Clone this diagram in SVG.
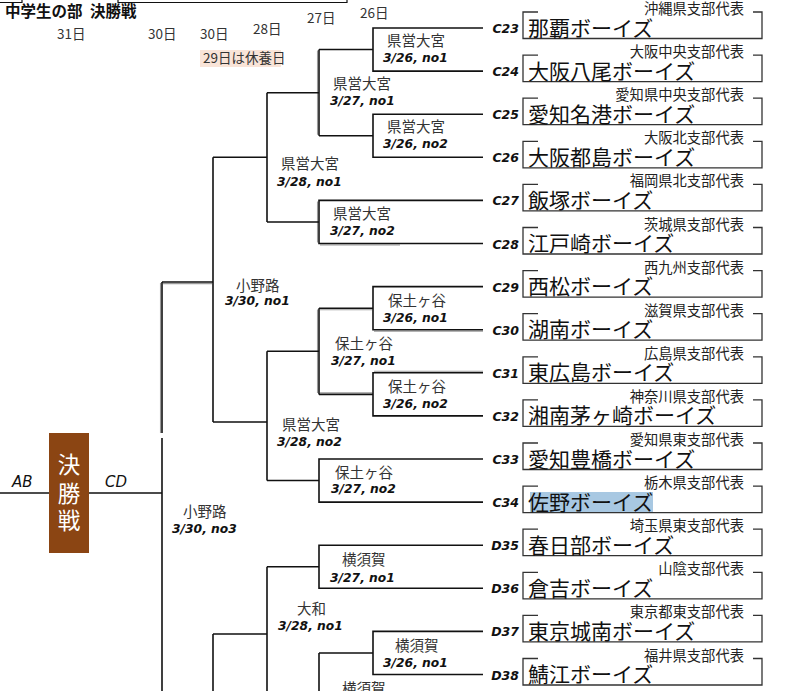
<svg xmlns="http://www.w3.org/2000/svg" width="800" height="691" viewBox="0 0 800 691">
<style>
.ln{fill:none;stroke:#111;stroke-width:1.6}
.gl{fill:none;stroke:#9a9a9a;stroke-width:1.1}
.box{fill:none;stroke:#333;stroke-width:1.3}
.sub{font-family:"Noto Sans CJK JP",sans-serif;font-size:14.3px;fill:#222;text-anchor:end}
.team{font-family:"Noto Sans CJK JP",sans-serif;font-size:21px;fill:#111}
.code{font-family:"DejaVu Sans",Verdana,sans-serif;font-weight:bold;font-style:italic;font-size:12.5px;fill:#111;text-anchor:end}
.place{font-family:"Noto Sans CJK JP",sans-serif;font-size:14.5px;fill:#333}
.date{font-family:"DejaVu Sans",Verdana,sans-serif;font-weight:bold;font-style:italic;font-size:12.3px;fill:#111}
.hdr{font-family:"Noto Sans CJK JP",sans-serif;font-size:13.5px;fill:#333}
.ab{font-family:"DejaVu Sans",Verdana,sans-serif;font-style:italic;font-size:15px;fill:#111}
</style>

<g id="header">
  <path class="ln" d="M0,2.5 H22 V0 M118,0 V2.5 H347 V0" style="stroke-width:1.2"/>
  <text x="5" y="16.5" style="font-family:'Noto Sans CJK JP',sans-serif;font-size:15.5px;font-weight:bold;fill:#111">中学生の部<tspan x="90">決勝戦</tspan></text>
  <text class="hdr" x="57" y="39">31日</text>
  <text class="hdr" x="148" y="39">30日</text>
  <text class="hdr" x="200" y="39">30日</text>
  <text class="hdr" x="253" y="34">28日</text>
  <text class="hdr" x="307" y="23">27日</text>
  <text class="hdr" x="360" y="18">26日</text>
  <rect x="200" y="50" width="81" height="17" fill="#f9e4d8"/>
  <text class="hdr" x="203" y="63">29日は休養日</text>
</g>

<g id="connectors">
  <!-- shading lines that double some winner paths -->
  <path class="gl" d="M317.5,50.5 V134.8 M317.5,201.5 V242.5 M160.5,283 V433 M163,283.6 H212 M317.5,309.5 V393 M320,309.8 H372 M320,392.8 H372 M374,331.3 H483 M374,371.2 H483 M320,245 H400"/>
  <!-- round 1 (x=373) -->
  <path class="ln" d="M483,28 H373 V71.1 H483 M373,49.5 H319"/>
  <path class="ln" d="M483,114.2 H373 V157.3 H483 M373,135.8 H319"/>
  <path class="ln" d="M483,286.6 H373 V329.7 H483 M373,308.2 H319"/>
  <path class="ln" d="M483,372.8 H373 V415.9 H483 M373,394.4 H319"/>
  <path class="ln" d="M483,631.4 H373 V674.5 H483 M373,653 H319"/>
  <!-- round 2 (x=319) -->
  <path class="ln" d="M319,49.5 V135.8 M319,92.7 H267"/>
  <path class="ln" d="M483,200.4 H319 V243.5 H483 M319,222 H267"/>
  <path class="ln" d="M319,308.2 V394.4 M319,351.3 H267"/>
  <path class="ln" d="M483,459 H319 V502.1 H483 M319,480.5 H267"/>
  <path class="ln" d="M483,545.2 H319 V588.3 H483 M319,566.8 H267"/>
  <path class="ln" d="M319,653 V691"/>
  <!-- round 3 (x=267) -->
  <path class="ln" d="M267,92.7 V222 M267,157.3 H213"/>
  <path class="ln" d="M267,351.3 V480.5 M267,422 H213"/>
  <path class="ln" d="M267,566.8 V691 M267,634 H213"/>
  <!-- round 4 (x=213) -->
  <path class="ln" d="M213,157.3 V422 M213,282 H162"/>
  <path class="ln" d="M213,634 V691"/>
  <!-- round 5 (x=162) -->
  <path class="ln" d="M162,282 V433"/>
  <path class="ln" d="M162,438 V691 M162,493 H89"/>
  <path class="ln" d="M49,493 H0"/>
</g>

<g id="final">
  <rect x="49" y="433" width="40" height="120" fill="#8b4513"/>
  <text x="69" style="font-family:'Noto Sans CJK JP',sans-serif;font-size:22.5px;fill:#fff;text-anchor:middle"><tspan x="69" y="473">決</tspan><tspan x="69" y="502">勝</tspan><tspan x="69" y="529">戦</tspan></text>
  <text class="ab" x="12" y="487">AB</text>
  <text class="ab" x="105" y="487">CD</text>
</g>

<g id="m-c1"><text class="place" x="387" y="46">県営大宮</text><text class="date" x="383" y="62">3/26, no1</text></g>
<g id="m-c2"><text class="place" x="333" y="89">県営大宮</text><text class="date" x="330" y="105">3/27, no1</text></g>
<g id="m-c3"><text class="place" x="387" y="132">県営大宮</text><text class="date" x="383" y="148">3/26, no2</text></g>
<g id="m-c4"><text class="place" x="333" y="219">県営大宮</text><text class="date" x="330" y="235">3/27, no2</text></g>
<g id="m-c5"><text class="place" x="281" y="169">県営大宮</text><text class="date" x="277" y="186">3/28, no1</text></g>
<g id="m-c6"><text class="place" x="236" y="291">小野路</text><text class="date" x="225" y="305">3/30, no1</text></g>
<g id="m-c7"><text class="place" x="388" y="306">保土ヶ谷</text><text class="date" x="383" y="322">3/26, no1</text></g>
<g id="m-c8"><text class="place" x="335" y="349">保土ヶ谷</text><text class="date" x="331" y="365">3/27, no1</text></g>
<g id="m-c9"><text class="place" x="388" y="392">保土ヶ谷</text><text class="date" x="383" y="408">3/26, no2</text></g>
<g id="m-c10"><text class="place" x="282" y="430">県営大宮</text><text class="date" x="277" y="446">3/28, no2</text></g>
<g id="m-c11"><text class="place" x="335" y="478">保土ヶ谷</text><text class="date" x="331" y="493">3/27, no2</text></g>
<g id="m-f3"><text class="place" x="183" y="517">小野路</text><text class="date" x="172" y="533">3/30, no3</text></g>
<g id="m-d1"><text class="place" x="342" y="565">横須賀</text><text class="date" x="330" y="582">3/27, no1</text></g>
<g id="m-d2"><text class="place" x="297" y="614">大和</text><text class="date" x="278" y="630">3/28, no1</text></g>
<g id="m-d3"><text class="place" x="395" y="651">横須賀</text><text class="date" x="383" y="667">3/26, no1</text></g>
<g id="m-d4"><text class="place" x="342" y="694">横須賀</text></g>

<g id="t-C23"><path class="box" d="M538,12 H523 V38.5 H762 V12 H753"/><text class="sub" x="744" y="14">沖縄県支部代表</text><text class="team" x="528" y="35.5">那覇ボーイズ</text><text class="code" x="519" y="33">C23</text></g>
<g id="t-C24"><path class="box" d="M538,55.1 H523 V81.6 H762 V55.1 H753"/><text class="sub" x="744" y="57.1">大阪中央支部代表</text><text class="team" x="528" y="78.6">大阪八尾ボーイズ</text><text class="code" x="519" y="76.1">C24</text></g>
<g id="t-C25"><path class="box" d="M538,98.2 H523 V124.7 H762 V98.2 H753"/><text class="sub" x="744" y="100.2">愛知県中央支部代表</text><text class="team" x="528" y="121.7">愛知名港ボーイズ</text><text class="code" x="519" y="119.2">C25</text></g>
<g id="t-C26"><path class="box" d="M538,141.3 H523 V167.8 H762 V141.3 H753"/><text class="sub" x="744" y="143.3">大阪北支部代表</text><text class="team" x="528" y="164.8">大阪都島ボーイズ</text><text class="code" x="519" y="162.3">C26</text></g>
<g id="t-C27"><path class="box" d="M538,184.4 H523 V210.9 H762 V184.4 H753"/><text class="sub" x="744" y="186.4">福岡県北支部代表</text><text class="team" x="528" y="207.9">飯塚ボーイズ</text><text class="code" x="519" y="205.4">C27</text></g>
<g id="t-C28"><path class="box" d="M538,227.5 H523 V254 H762 V227.5 H753"/><text class="sub" x="744" y="229.5">茨城県支部代表</text><text class="team" x="528" y="251">江戸崎ボーイズ</text><text class="code" x="519" y="248.5">C28</text></g>
<g id="t-C29"><path class="box" d="M538,270.6 H523 V297.1 H762 V270.6 H753"/><text class="sub" x="744" y="272.6">西九州支部代表</text><text class="team" x="528" y="294.1">西松ボーイズ</text><text class="code" x="519" y="291.6">C29</text></g>
<g id="t-C30"><path class="box" d="M538,313.7 H523 V340.2 H762 V313.7 H753"/><text class="sub" x="744" y="315.7">滋賀県支部代表</text><text class="team" x="528" y="337.2">湖南ボーイズ</text><text class="code" x="519" y="334.7">C30</text></g>
<g id="t-C31"><path class="box" d="M538,356.8 H523 V383.3 H762 V356.8 H753"/><text class="sub" x="744" y="358.8">広島県支部代表</text><text class="team" x="528" y="380.3">東広島ボーイズ</text><text class="code" x="519" y="377.8">C31</text></g>
<g id="t-C32"><path class="box" d="M538,399.9 H523 V426.4 H762 V399.9 H753"/><text class="sub" x="744" y="401.9">神奈川県支部代表</text><text class="team" x="528" y="423.4">湘南茅ヶ崎ボーイズ</text><text class="code" x="519" y="420.9">C32</text></g>
<g id="t-C33"><path class="box" d="M538,443 H523 V469.5 H762 V443 H753"/><text class="sub" x="744" y="445">愛知県東支部代表</text><text class="team" x="528" y="466.5">愛知豊橋ボーイズ</text><text class="code" x="519" y="464">C33</text></g>
<g id="t-C34"><rect x="530" y="492" width="123" height="21" fill="#a8c8e2"/><path class="box" d="M538,486.1 H523 V512.6 H762 V486.1 H753"/><text class="sub" x="744" y="488.1">栃木県支部代表</text><text class="team" x="528" y="509.6">佐野ボーイズ</text><text class="code" x="519" y="507.1">C34</text></g>
<g id="t-D35"><path class="box" d="M538,529.2 H523 V555.7 H762 V529.2 H753"/><text class="sub" x="744" y="531.2">埼玉県東支部代表</text><text class="team" x="528" y="552.7">春日部ボーイズ</text><text class="code" x="519" y="550.2">D35</text></g>
<g id="t-D36"><path class="box" d="M538,572.3 H523 V598.8 H762 V572.3 H753"/><text class="sub" x="744" y="574.3">山陰支部代表</text><text class="team" x="528" y="595.8">倉吉ボーイズ</text><text class="code" x="519" y="593.3">D36</text></g>
<g id="t-D37"><path class="box" d="M538,615.4 H523 V641.9 H762 V615.4 H753"/><text class="sub" x="744" y="617.4">東京都東支部代表</text><text class="team" x="528" y="638.9">東京城南ボーイズ</text><text class="code" x="519" y="636.4">D37</text></g>
<g id="t-D38"><path class="box" d="M538,658.5 H523 V685 H762 V658.5 H753"/><text class="sub" x="744" y="660.5">福井県支部代表</text><text class="team" x="528" y="682">鯖江ボーイズ</text><text class="code" x="519" y="679.5">D38</text></g>
</svg>
